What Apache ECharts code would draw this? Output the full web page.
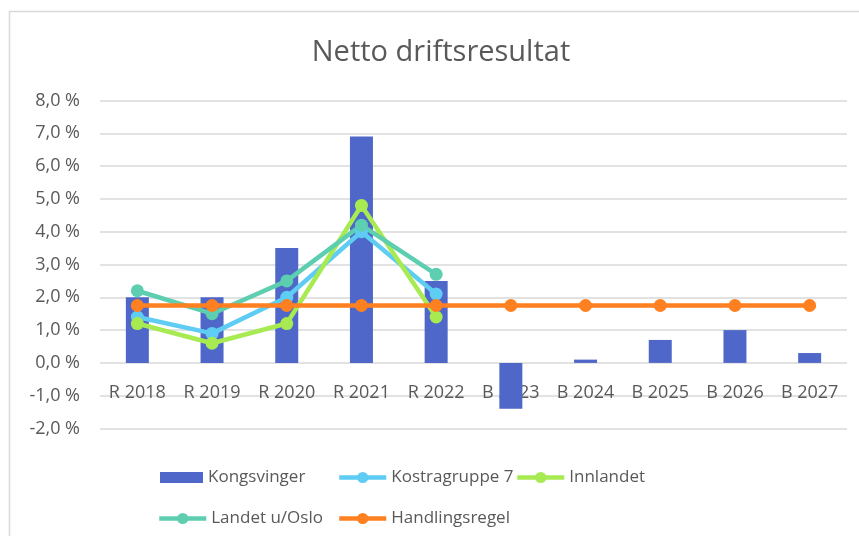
<!DOCTYPE html>
<html>
<head>
<meta charset="utf-8">
<title>Netto driftsresultat</title>
<script src="https://cdn.jsdelivr.net/npm/echarts@6/dist/echarts.min.js"></script>
<style>
  html, body {
    margin: 0;
    padding: 0;
    background: #fff;
  }
  #netto-chart {
    width: 859px;
    height: 536px;
  }
</style>
</head>
<body>
<div id="netto-chart"></div>
<script>
// data (percent)
const categories = ["R 2018", "R 2019", "R 2020", "R 2021", "R 2022", "B 2023", "B 2024", "B 2025", "B 2026", "B 2027"];
const kongsvinger = [2.0, 2.0, 3.5, 6.9, 2.5, -1.4, 0.1, 0.7, 1.0, 0.3];
const kostragruppe7 = [1.4, 0.9, 2.0, 4.0, 2.1, null, null, null, null, null];
const innlandet = [1.2, 0.6, 1.2, 4.8, 1.4, null, null, null, null, null];
const landetUtenOslo = [2.2, 1.5, 2.5, 4.2, 2.7, null, null, null, null, null];
const handlingsregel = [1.75, 1.75, 1.75, 1.75, 1.75, 1.75, 1.75, 1.75, 1.75, 1.75];
const yTicks = { min: -2, max: 8, interval: 1 };

const textColor = "#595959";
const gridColor = "#d9d9d9";
const fontFamily = "'Open Sans', sans-serif";

const gridTop = 100.5;
const gridBottom = 107.5;
const plotHeight = 536 - gridTop - gridBottom;
// category labels sit under the zero line, like in the original
const zeroOffset = -plotHeight * (0 - yTicks.min) / (yTicks.max - yTicks.min);

let myChart = echarts.init(document.getElementById("netto-chart"));

function lineSeries(name, values, color) {
  return {
    name: name,
    type: "line",
    data: values,
    symbol: "circle",
    symbolSize: 13,
    connectNulls: false,
    lineStyle: { width: 4.5, color: color },
    itemStyle: { color: color },
    emphasis: { disabled: true }
  };
}

// one legend per item so the layout matches the two-row legend of the original
function legendItem(name, left, top, width, height, icon) {
  let item = {
    data: [name],
    left: left,
    top: top,
    padding: 0,
    itemWidth: width,
    itemHeight: height,
    itemGap: 0,
    selectedMode: false,
    lineStyle: { width: 4.5 },
    textStyle: { color: textColor, fontSize: 17, fontFamily: fontFamily }
  };
  if (icon) {
    item.icon = icon;
  }
  return item;
}

let option = {
  animation: false,
  title: {
    text: "Netto driftsresultat",
    left: 436,
    top: 33,
    textAlign: "center",
    textStyle: {
      color: textColor,
      fontSize: 29,
      fontWeight: "normal",
      fontFamily: fontFamily
    }
  },
  graphic: [
    {
      type: "rect",
      shape: { x: 9.5, y: 11.5, width: 900, height: 600 },
      style: { fill: "none", stroke: gridColor, lineWidth: 1.5 },
      silent: true
    }
  ],
  legend: [
    legendItem("Kongsvinger", 160, 469, 43, 11, "rect"),
    legendItem("Kostragruppe 7", 337, 469, 47, 14),
    legendItem("Innlandet", 515, 469, 47, 14),
    legendItem("Landet u/Oslo", 157, 510, 47, 14),
    legendItem("Handlingsregel", 337, 510, 47, 14)
  ],
  grid: {
    left: 100,
    right: 12,
    top: gridTop,
    bottom: gridBottom
  },
  xAxis: {
    type: "category",
    data: categories,
    offset: zeroOffset,
    axisLine: { show: false, onZero: false },
    axisTick: { show: false },
    axisLabel: {
      color: textColor,
      fontSize: 18,
      fontFamily: fontFamily,
      margin: 21,
      interval: 0
    }
  },
  yAxis: {
    type: "value",
    min: yTicks.min,
    max: yTicks.max,
    interval: yTicks.interval,
    axisLine: { show: false },
    axisTick: { show: false },
    splitLine: { lineStyle: { color: gridColor, width: 1.5 } },
    axisLabel: {
      color: textColor,
      fontSize: 18,
      fontFamily: fontFamily,
      margin: 20,
      formatter: function (value) {
        return value.toFixed(1).replace(".", ",") + " %";
      }
    }
  },
  series: [
    {
      name: "Kongsvinger",
      type: "bar",
      data: kongsvinger,
      barWidth: 23,
      itemStyle: { color: "#4E67C8" },
      emphasis: { disabled: true }
    },
    lineSeries("Kostragruppe 7", kostragruppe7, "#5ECCF3"),
    lineSeries("Innlandet", innlandet, "#A7EA52"),
    lineSeries("Landet u/Oslo", landetUtenOslo, "#5DCEAF"),
    lineSeries("Handlingsregel", handlingsregel, "#FF8021")
  ]
};

myChart.setOption(option);
</script>
</body>
</html>
